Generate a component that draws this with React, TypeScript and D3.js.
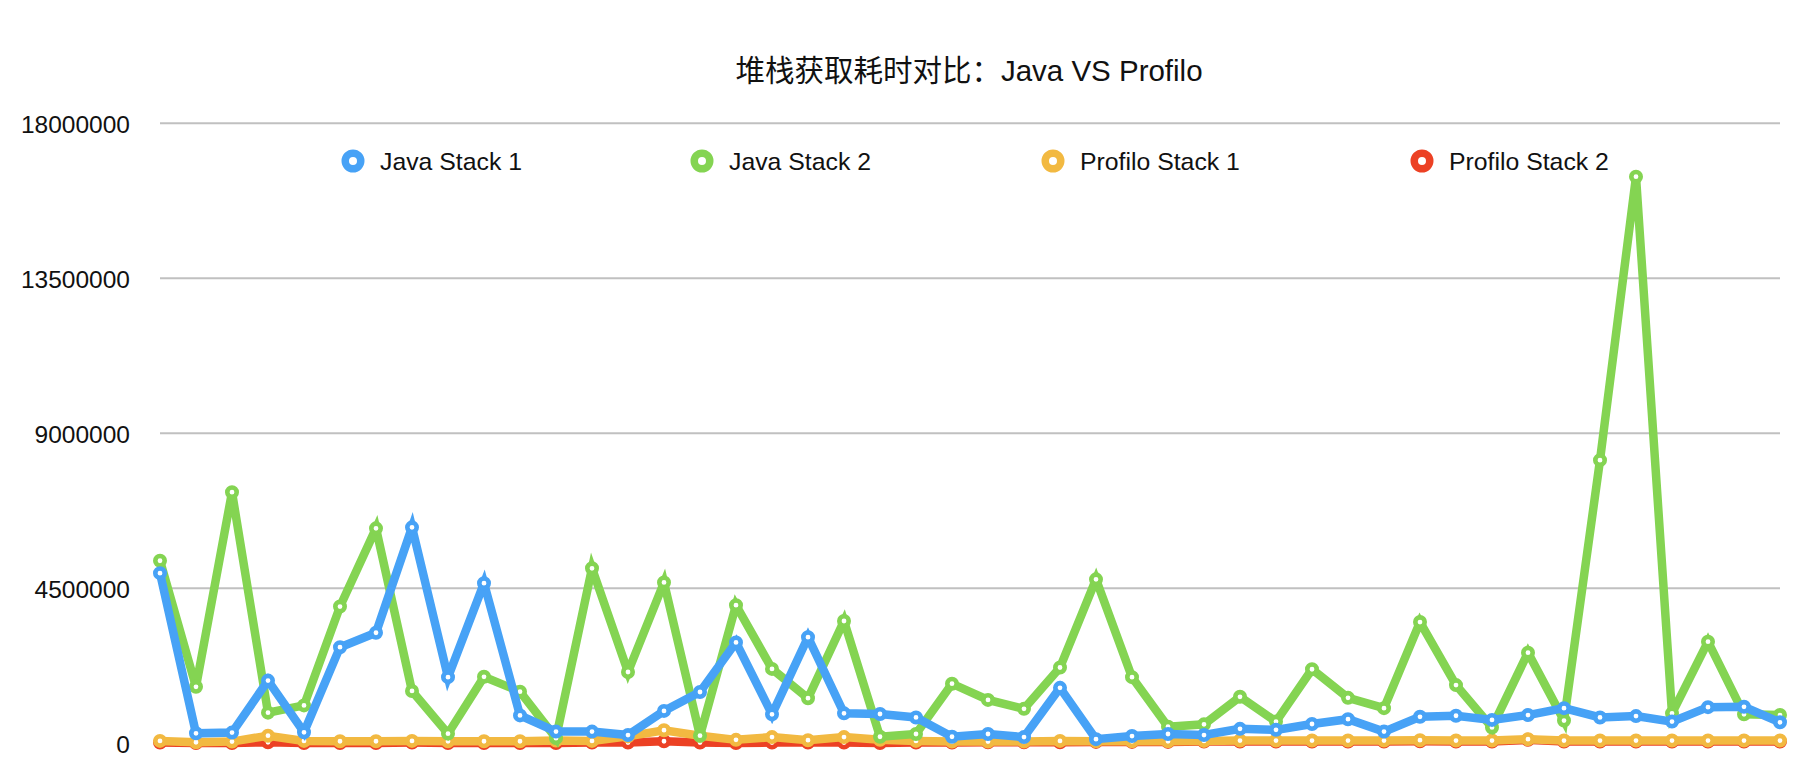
import React from "react";
import * as d3 from "d3";

const title = "堆栈获取耗时对比：Java VS Profilo";
const seriesNames = ["Java Stack 1", "Java Stack 2", "Profilo Stack 1", "Profilo Stack 2"];
const seriesColors = ["#47a2f6", "#84d452", "#f2b941", "#ec4124"];
const yTicks = [0, 4500000, 9000000, 13500000, 18000000];

// values in millions
const javaStack1 = [
  4.94, 0.29, 0.31, 1.82, 0.32, 2.79, 3.21, 6.27, 1.92, 4.65,
  0.81, 0.34, 0.34, 0.24, 0.94, 1.49, 2.93, 0.84, 3.08, 0.87,
  0.85, 0.75, 0.19, 0.27, 0.18, 1.61, 0.12, 0.21, 0.27, 0.24,
  0.42, 0.39, 0.56, 0.7, 0.34, 0.77, 0.8, 0.68, 0.82, 1.02,
  0.75, 0.79, 0.63, 1.05, 1.06, 0.61,
];
const javaStack2 = [
  5.3, 1.64, 7.29, 0.89, 1.1, 3.97, 6.24, 1.52, 0.28, 1.93,
  1.5, 0.15, 5.08, 2.07, 4.67, 0.22, 4.01, 2.16, 1.31, 3.55,
  0.19, 0.27, 1.73, 1.26, 1.0, 2.2, 4.76, 1.92, 0.48, 0.55,
  1.35, 0.63, 2.15, 1.32, 1.02, 3.52, 1.69, 0.46, 2.63, 0.66,
  8.22, 16.45, 0.87, 2.95, 0.84, 0.82,
];
const profiloStack1 = [
  0.07, 0.03, 0.05, 0.22, 0.07, 0.06, 0.06, 0.07, 0.06, 0.06,
  0.06, 0.08, 0.07, 0.2, 0.38, 0.22, 0.1, 0.18, 0.09, 0.18,
  0.1, 0.07, 0.05, 0.05, 0.05, 0.07, 0.06, 0.06, 0.06, 0.07,
  0.08, 0.08, 0.08, 0.08, 0.08, 0.09, 0.08, 0.08, 0.12, 0.08,
  0.08, 0.08, 0.08, 0.08, 0.08, 0.08,
];
const profiloStack2 = [
  0.02, 0.01, 0.01, 0.03, 0.01, 0.01, 0.01, 0.02, 0.01, 0.01,
  0.01, 0.01, 0.02, 0.02, 0.06, 0.02, 0.01, 0.02, 0.02, 0.02,
  0.01, 0.02, 0.02, 0.03, 0.03, 0.03, 0.04, 0.04, 0.04, 0.05,
  0.05, 0.05, 0.05, 0.05, 0.05, 0.06, 0.05, 0.05, 0.1, 0.05,
  0.05, 0.05, 0.05, 0.05, 0.05, 0.05,
];

const allSeries = [javaStack1, javaStack2, profiloStack1, profiloStack2];

const W = 1814;
const H = 782;
const FONT = '"Liberation Sans", Arial, Helvetica, "Noto Sans CJK SC", sans-serif';

export default function App() {
  const n = javaStack1.length;
  const x = d3.scalePoint<number>().domain(d3.range(n)).range([160, 1780]);
  const y = d3.scaleLinear().domain([0, 18000000]).range([743.3, 123.3]);
  const line = d3
    .line<number>()
    .x((_, i) => x(i) as number)
    .y((v) => y(v * 1e6));

  const drawOrder = [3, 2, 1, 0];
  const legendX = [353, 702, 1053, 1422];

  return (
    <svg
      width={W}
      height={H}
      style={{ position: "absolute", left: 0, top: 0, background: "#fff" }}
      fontFamily={FONT}
    >
      <rect x={0} y={0} width={W} height={H} fill="#fff" />
      <text x={969} y={81} fontSize={29.5} textAnchor="middle" fill="#111">
        {title}
      </text>
      {yTicks.map((t) => (
        <g key={t}>
          <line x1={160} x2={1780} y1={y(t)} y2={y(t)} stroke="#c0c0c0" strokeWidth={2} />
          <text x={130} y={y(t) + 9.5} fontSize={24.5} textAnchor="end" fill="#111">
            {String(t)}
          </text>
        </g>
      ))}
      {seriesNames.map((name, i) => (
        <g key={name}>
          <circle cx={legendX[i]} cy={161} r={7.75} fill="#fff" stroke={seriesColors[i]} strokeWidth={7.5} />
          <text x={legendX[i] + 27} y={170} fontSize={24.8} fill="#111">
            {name}
          </text>
        </g>
      ))}
      {drawOrder.map((si) => (
        <g key={si}>
          <path
            d={line(allSeries[si]) || ""}
            fill="none"
            stroke={seriesColors[si]}
            strokeWidth={8.5}
            strokeLinejoin="miter"
          />
          {allSeries[si].map((v, i) => (
            <circle
              key={i}
              cx={x(i) as number}
              cy={y(v * 1e6)}
              r={4.7}
              fill="#fff"
              stroke={seriesColors[si]}
              strokeWidth={4.6}
            />
          ))}
        </g>
      ))}
    </svg>
  );
}
